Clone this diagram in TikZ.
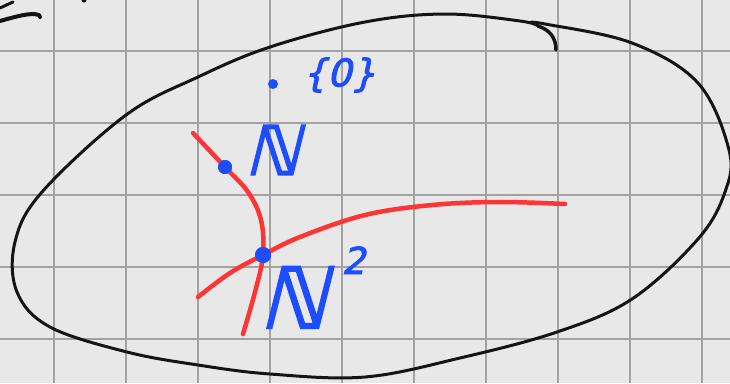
\documentclass[tikz,border=0pt]{standalone}
\usepackage{fontspec}
\newfontfamily\hand[FakeSlant=0.25,FakeBold=2.5]{DejaVu Sans}
\definecolor{paper}{HTML}{E8E8E8}
\definecolor{gridc}{HTML}{A2A2A2}
\definecolor{inkred}{HTML}{FF3535}
\definecolor{inkblue}{HTML}{1E4DFF}
\definecolor{inkblack}{HTML}{151515}
\tikzset{
  gridline/.style={gridc, line width=1.8pt},
  blackink/.style={inkblack, line width=3pt, line cap=round, line join=round},
  redink/.style={inkred, line width=4.5pt, line cap=round, line join=round},
  dotnode/.style={circle, fill=inkblue, inner sep=0pt, minimum size=#1},
  label/.style={inkblue, inner sep=0pt, font=\hand}
}
\begin{document}
\begin{tikzpicture}[x=1pt,y=-1pt]
\fill[paper] (0,0) rectangle (730,383);
\useasboundingbox (0,0) rectangle (730,383);
% grid
\foreach \gx in {54,126,...,702} \draw[gridline] (\gx,0) -- (\gx,383);
\foreach \gy in {51,123,...,339} \draw[gridline] (0,\gy) -- (730,\gy);
% partial strokes top-left
\draw[blackink, line width=4pt] (0,21) .. controls (15,17) and (30,12) .. (39,15) -- (40,17);
\draw[blackink] (0,8) -- (13,2);
\fill[inkblack] (84,0) circle (2.5);
% big closed curve
\draw[blackink, line width=3.5pt] (556,50) .. controls (556,38) and (550,30) .. (538,26);
\draw[blackink] plot[smooth, tension=0.6] coordinates {
 (538,26) (520,21) (445,14) (365,22) (270,47) (198,77) (126,115)
 (42,192) (15,242) (17,292) (50,327) (127,352) (198,365) (270,374) (365,377)
 (460,358) (557,332) (632,299) (698,239) (725,192) (729,150) (698,83) (632,43) (545,24) (530,23)};
% points
\node[dotnode=14pt] (p1) at (225,167) {};
\node[dotnode=16pt] (p2) at (263,255) {};
\node[dotnode=10pt] (p0) at (273,84) {};
% red curves
\draw[redink] plot[smooth, tension=0.6] coordinates {(193,133) (p1) (248,192) (261,220) (p2) (255,292) (243,334)};
\draw[redink] plot[smooth, tension=0.6] coordinates {(198,297) (230,273) (p2) (300,237) (365,215) (432,205) (498,202) (565,204)};
\fill[inkblue] (p1) circle (7);
\fill[inkblue] (p2) circle (8);
% labels
\node[label, font=\hand\fontsize{38}{38}\selectfont] (zero) at (339,75) {\{0\}};
\node[label, font=\hand\fontsize{68}{68}\selectfont] (n1) at (272,150) {ℕ};
\node[label, font=\hand\fontsize{84}{84}\selectfont, anchor=base west] (n2) at (259,328)
  {ℕ\hspace{15pt}\raisebox{54pt}{\fontsize{37}{37}\selectfont 2}};
\end{tikzpicture}
\end{document}
